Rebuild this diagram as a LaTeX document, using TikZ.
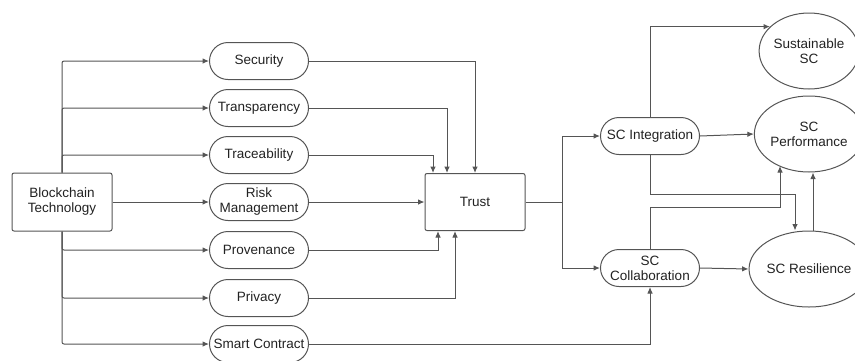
\documentclass[tikz,border=0pt]{standalone}
\usepackage{fontspec}
\setmainfont{Liberation Sans}
\usetikzlibrary{arrows.meta,shapes.geometric,shapes.misc}
\definecolor{linegray}{HTML}{555555}
\definecolor{textgray}{HTML}{222222}
\tikzset{
  every node/.style={font=\fontsize{13.5}{15}\selectfont, text=textgray, align=center},
  conn/.style={draw=linegray, line width=1pt},
  arr/.style={conn, -{Latex[length=6.5pt,width=5.5pt]}},
  pill/.style={draw=linegray, line width=1pt, rounded rectangle, minimum width=101pt, minimum height=37pt, inner sep=1pt},
  sqbox/.style={draw=linegray, line width=1pt, rounded corners=2pt, inner sep=2pt},
  oval/.style={draw=linegray, line width=1pt, ellipse, minimum width=92pt, minimum height=76pt, inner sep=0pt},
}
\begin{document}
\begin{tikzpicture}[x=1pt,y=-1pt]
\useasboundingbox (0,0) rectangle (855,360);

% source and trust boxes
\node[sqbox, minimum width=100pt, minimum height=58pt] (bt) at (62,202) {Blockchain\\Technology};
\node[sqbox, minimum width=100pt, minimum height=57pt] (trust) at (475,202) {Trust};

% blockchain properties
\node[pill] (sec) at (259,61)  {Security};
\node[pill] (tsp) at (259,108) {Transparency};
\node[pill] (trc) at (259,155) {Traceability};
\node[pill] (risk) at (259,202) {Risk\\Management};
\node[pill] (pro) at (259,250) {Provenance};
\node[pill] (pri) at (259,298) {Privacy};
\node[pill] (smc) at (259,344) {Smart Contract};

% supply chain mechanisms
\node[pill] (int) at (650,136) {SC Integration};
\node[pill] (col) at (650,268) {SC\\Collaboration};

% outcomes
\node[oval] (sus) at (809,51)  {Sustainable\\SC};
\node[oval] (perf) at (809,134) {SC\\Performance};
\node[oval] (res) at (809,269) {SC Resilience};

% trunk from blockchain technology to each property
\foreach \t in {sec,tsp,trc} \draw[arr, rounded corners=2pt] (bt.north) |- (\t.west);
\foreach \t in {pro,pri,smc} \draw[arr, rounded corners=2pt] (bt.south) |- (\t.west);
\draw[arr] (bt.east) -- (risk.west);

% properties into trust
\draw[arr] (sec.east) -| (trust.north);
\draw[arr] (tsp.east) -| ([xshift=-28pt]trust.north);
\draw[arr] (trc.east) -| ([xshift=-42pt]trust.north);
\draw[arr] (risk.east) -- (trust.west);
\draw[arr] (pro.east) -| ([xshift=-37pt]trust.south);
\draw[arr] (pri.east) -| ([xshift=-20pt]trust.south);

% trust splits to integration and collaboration
\coordinate (split) at (562,202);
\draw[conn] (trust.east) -- (split);
\draw[arr] (split) |- (int.west);
\draw[arr] (split) |- (col.west);

% smart contract feeds collaboration
\draw[arr] (smc.east) -| (col.south);

% integration and collaboration to outcomes
\draw[arr] (int.north) |- (sus.148);
\draw[arr] (int.east) -- (perf.west);
\coordinate (intdown) at (650,194);
\draw[arr] (int.south) -- (intdown) -| ([xshift=-14pt]res.north);
\draw[arr] (col.east) -- (res.west);
\coordinate (colup) at (650,207);
\draw[arr] (col.north) -- (colup) -| (780,166);
\draw[arr] ([xshift=4pt]res.north) -- ([xshift=4pt]perf.south);
\end{tikzpicture}
\end{document}
